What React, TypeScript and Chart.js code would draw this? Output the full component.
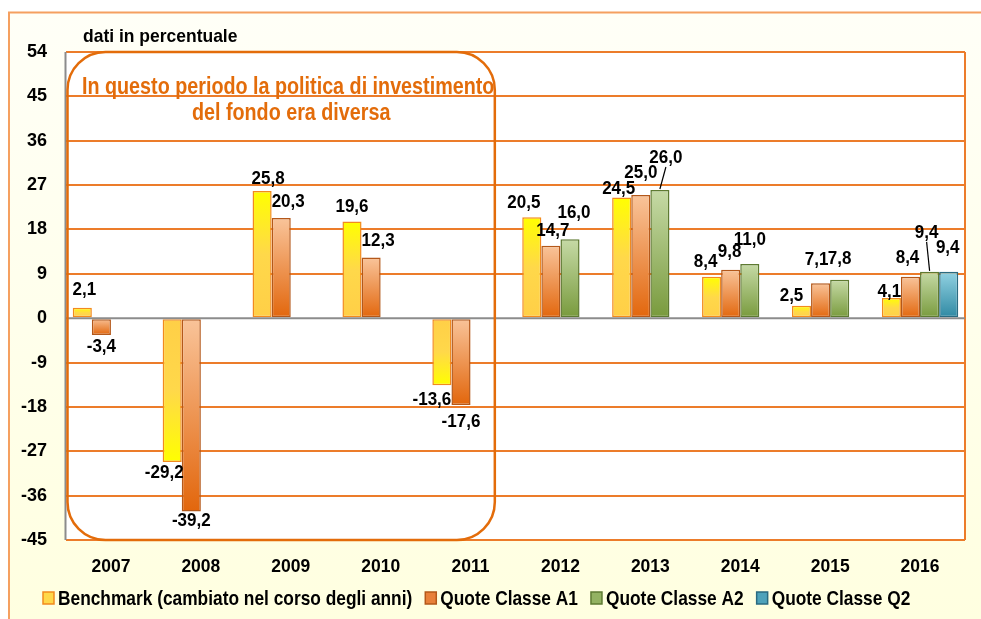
import React, { useEffect, useRef } from 'react';
import { Chart, registerables } from 'chart.js';

Chart.register(...registerables);

// ---------- data ----------
const years = ['2007', '2008', '2009', '2010', '2011', '2012', '2013', '2014', '2015', '2016'];
const benchmark = [2.1, -29.2, 25.8, 19.6, -13.6, 20.5, 24.5, 8.4, 2.5, 4.1];
const classeA1 = [-3.4, -39.2, 20.3, 12.3, -17.6, 14.7, 25.0, 9.8, 7.1, 8.4];
const classeA2 = [null, null, null, null, null, 16.0, 26.0, 11.0, 7.8, 9.4];
const classeQ2 = [null, null, null, null, null, null, null, null, null, 9.4];
const seriesNames = [
  'Benchmark (cambiato nel corso degli anni)',
  'Quote Classe A1',
  'Quote Classe A2',
  'Quote Classe Q2',
];
const yMin = -45;
const yMax = 54;
const yStep = 9;
const unitNote = 'dati in percentuale';
const periodNote = ['In questo periodo la politica di investimento', 'del fondo era diversa'];
const periodLastIndex = 4;

// ---------- style ----------
const FONT = "'Liberation Sans', Arial, sans-serif";
const ORANGE = '#E36C0A';
const GRID_ORANGE = '#EC7C2A';
const GREY = '#8C8C8C';

// per-series colours
const palette = [
  { a: '#FFFF00', b: '#FFCF47', border: '#F28A1E', legend: '#FFD84A' },
  { a: '#F9C49A', b: '#E2660C', border: '#B4581A', legend: '#E8803A' },
  { a: '#C6DAA6', b: '#789A3C', border: '#5E7A32', legend: '#93B262' },
  { a: '#92D2E2', b: '#2E88A2', border: '#2A6A80', legend: '#4EA2BA' },
];

// label offsets [dx, dy] (pixels) per series, per category
const labelOffsets: Array<Array<[number, number]>> = [
  [[2, -3], [-8, -2], [6, 3], [0, 0], [-10, 2], [-8, 1], [-3, 6], [-6, 0], [-10, 5], [-2, 9]],
  [[0, -1], [0, -4], [7, -1], [7, -2], [0, 4], [2, 0], [0, -7], [-1, -3], [-4, -8], [-3, -4]],
  [[0, 0], [0, 0], [0, 0], [0, 0], [0, 0], [4, -11], [6, -17], [0, -9], [0, -6], [-3, -24]],
  [[0, 0], [0, 0], [0, 0], [0, 0], [0, 0], [0, 0], [0, 0], [0, 0], [0, 0], [-1, -9]],
];
const leaderLines: Array<[number, number]> = [[2, 6], [2, 9]];

function makeBg(seriesIdx: number) {
  return (ctx: any) => {
    const p = palette[seriesIdx];
    const chart = ctx.chart;
    if (ctx.type !== 'data' || ctx.raw == null) return p.legend;
    const ys = chart.scales && chart.scales.y;
    if (!ys || !chart.chartArea) return p.legend;
    const v = ctx.raw as number;
    const yv = ys.getPixelForValue(v);
    const y0 = ys.getPixelForValue(0);
    if (Math.abs(yv - y0) < 1) return p.legend;
    let g;
    if (seriesIdx === 0) {
      g = chart.ctx.createLinearGradient(0, yv, 0, y0);
      g.addColorStop(0, p.a);
      g.addColorStop(0.5, '#FFD84A');
      g.addColorStop(1, p.b);
    } else {
      g = chart.ctx.createLinearGradient(0, Math.min(yv, y0), 0, Math.max(yv, y0));
      g.addColorStop(0, p.a);
      g.addColorStop(1, p.b);
    }
    return g;
  };
}

const fmt = (v: number) => v.toFixed(1).replace('.', ',');

// draw horizontally condensed text; returns drawn width
function narrowText(ctx: any, text: string, x: number, y: number, align: string, sx: number) {
  ctx.save();
  ctx.translate(x, y);
  ctx.scale(sx, 1);
  ctx.textAlign = align;
  ctx.fillText(text, 0, 0);
  const w = ctx.measureText(text).width * sx;
  ctx.restore();
  return w;
}

const decorPlugin = {
  id: 'decor',
  beforeDraw(chart: any) {
    const { ctx, width, height, chartArea } = chart;
    ctx.save();
    ctx.fillStyle = '#FFFFFF';
    ctx.fillRect(0, 0, width, height);
    const g = ctx.createLinearGradient(0, 12, 0, height);
    g.addColorStop(0, '#FFFFF7');
    g.addColorStop(1, '#FFFFE0');
    ctx.fillStyle = g;
    ctx.fillRect(9, 12, width - 9, height - 12);
    ctx.strokeStyle = '#F5A060';
    ctx.lineWidth = 2;
    ctx.beginPath();
    ctx.moveTo(9, height);
    ctx.lineTo(9, 12.5);
    ctx.lineTo(width, 12.5);
    ctx.stroke();
    // plot area
    ctx.fillStyle = '#FFFFFF';
    ctx.fillRect(chartArea.left, chartArea.top, chartArea.right - chartArea.left, chartArea.bottom - chartArea.top);
    // unit note
    ctx.fillStyle = '#000000';
    ctx.font = `bold 19px ${FONT}`;
    ctx.textBaseline = 'alphabetic';
    narrowText(ctx, unitNote, 83, 42, 'left', 0.92);
    ctx.restore();
  },
  beforeDatasetsDraw(chart: any) {
    const { ctx, chartArea } = chart;
    ctx.save();
    ctx.strokeStyle = GRID_ORANGE;
    ctx.lineWidth = 2;
    ctx.beginPath();
    ctx.moveTo(chartArea.right, chartArea.top);
    ctx.lineTo(chartArea.right, chartArea.bottom);
    ctx.stroke();
    ctx.restore();
  },
  afterDatasetsDraw(chart: any) {
    const { ctx, chartArea, scales } = chart;
    const ys = scales.y;
    const xs = scales.x;
    ctx.save();
    // zero line & left axis
    ctx.strokeStyle = GREY;
    ctx.lineWidth = 2;
    const y0 = ys.getPixelForValue(0);
    ctx.beginPath();
    ctx.moveTo(chartArea.left, y0);
    ctx.lineTo(chartArea.right, y0);
    ctx.stroke();
    ctx.beginPath();
    ctx.moveTo(chartArea.left - 0.5, chartArea.top);
    ctx.lineTo(chartArea.left - 0.5, chartArea.bottom);
    ctx.stroke();

    // period box
    const catW = (chartArea.right - chartArea.left) / years.length;
    const rx0 = chartArea.left + 1.5;
    const rx1 = xs.getPixelForValue(periodLastIndex) + catW * 0.27;
    const ry0 = chartArea.top;
    const ry1 = chartArea.bottom;
    const r = 38;
    ctx.strokeStyle = ORANGE;
    ctx.lineWidth = 2.5;
    ctx.beginPath();
    ctx.moveTo(rx0 + r, ry0);
    ctx.lineTo(rx1 - r, ry0);
    ctx.arcTo(rx1, ry0, rx1, ry0 + r, r);
    ctx.lineTo(rx1, ry1 - r);
    ctx.arcTo(rx1, ry1, rx1 - r, ry1, r);
    ctx.lineTo(rx0 + r, ry1);
    ctx.arcTo(rx0, ry1, rx0, ry1 - r, r);
    ctx.lineTo(rx0, ry0 + r);
    ctx.arcTo(rx0, ry0, rx0 + r, ry0, r);
    ctx.closePath();
    ctx.stroke();
    ctx.fillStyle = ORANGE;
    ctx.font = `bold 23.5px ${FONT}`;
    ctx.textBaseline = 'alphabetic';
    const cx = (rx0 + rx1) / 2 + 7;
    narrowText(ctx, periodNote[0], cx, 94, 'center', 0.84);
    narrowText(ctx, periodNote[1], cx + 3, 120, 'center', 0.84);

    // data labels
    ctx.fillStyle = '#000000';
    ctx.font = `bold 18.5px ${FONT}`;
    ctx.textBaseline = 'middle';
    chart.data.datasets.forEach((ds: any, di: number) => {
      const meta = chart.getDatasetMeta(di);
      meta.data.forEach((el: any, i: number) => {
        const v = ds.data[i];
        if (v == null) return;
        const off = labelOffsets[di][i] || [0, 0];
        const lx = el.x + off[0];
        const ly = v >= 0 ? el.y - 15 + off[1] : el.y + 13 + off[1];
        narrowText(ctx, fmt(v), lx, ly, 'center', 0.92);
        if (leaderLines.some(([a, b]) => a === di && b === i)) {
          ctx.strokeStyle = '#000000';
          ctx.lineWidth = 1.2;
          ctx.beginPath();
          ctx.moveTo(lx, ly + 9);
          ctx.lineTo(el.x, el.y - 1);
          ctx.stroke();
        }
      });
    });

    // legend
    ctx.font = `bold 21px ${FONT}`;
    ctx.textBaseline = 'middle';
    let x = 43;
    const ly = 598;
    seriesNames.forEach((name, i) => {
      const p = palette[i];
      ctx.fillStyle = p.legend;
      ctx.fillRect(x, ly - 6, 11, 12);
      ctx.strokeStyle = p.border;
      ctx.lineWidth = 1.5;
      ctx.strokeRect(x, ly - 6, 11, 12);
      ctx.fillStyle = '#000000';
      const w = narrowText(ctx, name, x + 15, ly + 1, 'left', 0.825);
      x += 15 + w + 13;
    });
    ctx.restore();
  },
};

export default function App() {
  const ref = useRef<HTMLCanvasElement | null>(null);
  useEffect(() => {
    document.body.style.margin = '0';
    const canvas = ref.current;
    if (!canvas) return;
    const series = [benchmark, classeA1, classeA2, classeQ2];
    const chart = new Chart(canvas, {
      type: 'bar',
      data: {
        labels: years,
        datasets: series.map((d, i) => ({
          label: seriesNames[i],
          data: d as any,
          backgroundColor: makeBg(i),
          borderColor: palette[i].border,
          borderWidth: 1.5,
          borderSkipped: false,
          categoryPercentage: 0.85,
          barPercentage: 1.0,
        })),
      },
      options: {
        responsive: false,
        animation: false,
        devicePixelRatio: 1,
        layout: { padding: { left: 10, top: 52, right: 16, bottom: 19 } },
        plugins: {
          legend: { display: false },
          tooltip: { enabled: false },
          title: { display: false },
        },
        scales: {
          x: {
            grid: { display: false, drawTicks: false },
            border: { display: false },
            ticks: {
              color: '#000000',
              font: { family: FONT, size: 17.5, weight: 'bold' },
              padding: 17,
              maxRotation: 0,
            },
            afterFit: (s: any) => { s.height = 60; },
          },
          y: {
            min: yMin,
            max: yMax,
            grid: {
              drawTicks: false,
              color: (c: any) => (c.tick && c.tick.value === 0 ? 'rgba(0,0,0,0)' : GRID_ORANGE),
              lineWidth: 2,
            },
            border: { display: false },
            ticks: {
              stepSize: yStep,
              color: '#000000',
              font: { family: FONT, size: 18, weight: 'bold' },
              padding: 19,
              callback: (v: any) => String(v),
            },
            afterFit: (s: any) => { s.width = 56; },
          },
        },
      },
      plugins: [decorPlugin],
    });
    return () => chart.destroy();
  }, []);
  return (
    <div style={{ width: 981, height: 619, margin: 0 }}>
      <canvas ref={ref} width={981} height={619} style={{ display: 'block' }} />
    </div>
  );
}
